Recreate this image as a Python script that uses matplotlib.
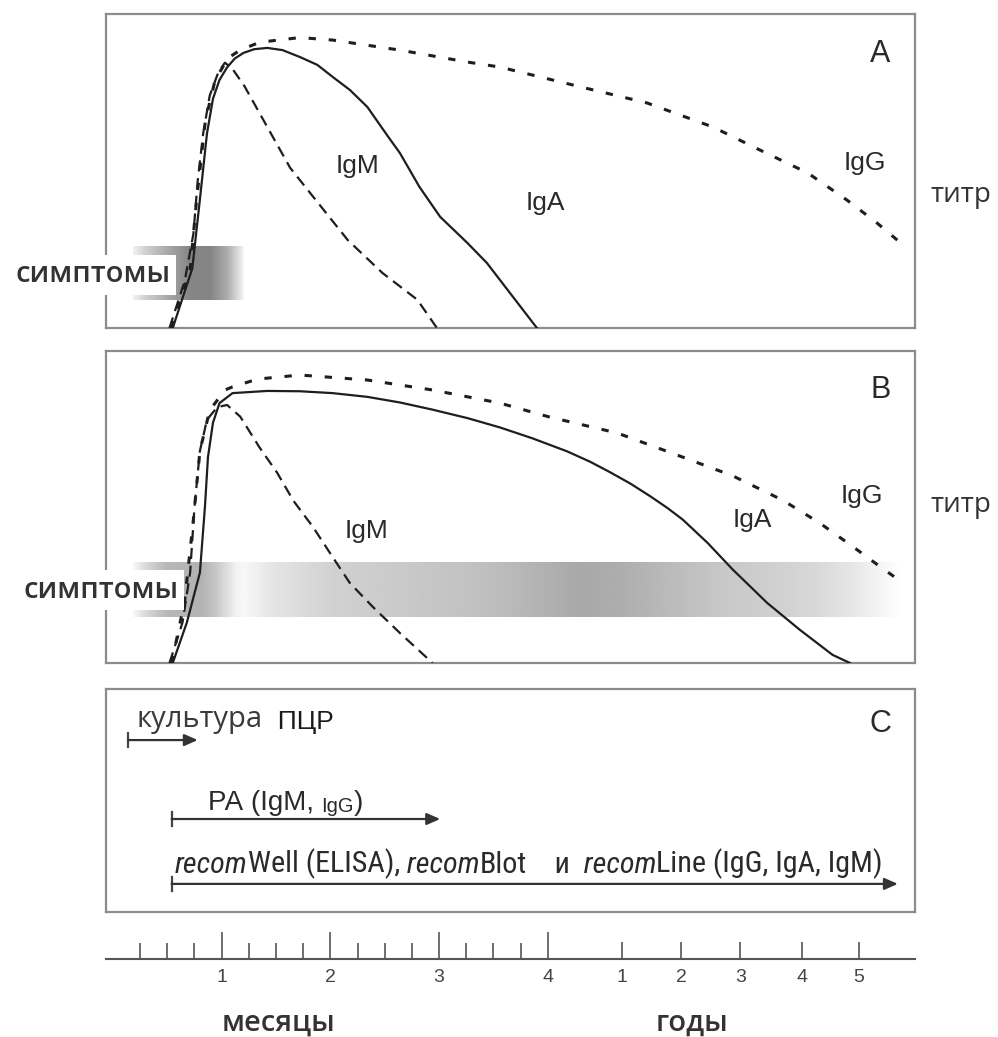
import numpy as np
import matplotlib
matplotlib.use("Agg")
import matplotlib.pyplot as plt
from matplotlib import font_manager

# ---- time scale: months 0..4 linear, then years squeezed onto the same axis
MONTH_TICKS = [1, 2, 3, 4]
MONTH_MINOR = [0.25, 0.5, 0.75, 1.25, 1.5, 1.75, 2.25, 2.5, 2.75, 3.25, 3.5, 3.75]
YEAR_TICKS = [1, 2, 3, 4, 5]
YEAR_POS = [4.68, 5.23, 5.77, 6.34, 6.86]

# ---- panel A: titre curves (time in axis units, titre 0..1)
a_igm_t = [0.52, 0.66, 0.74, 0.78, 0.83, 0.89, 0.97, 1.03, 1.10, 1.21, 1.42, 1.63, 1.86, 2.16, 2.48, 2.80, 2.98]
a_igm_y = [0.00, 0.15, 0.30, 0.47, 0.62, 0.74, 0.815, 0.845, 0.825, 0.77, 0.64, 0.51, 0.41, 0.28, 0.175, 0.09, 0.00]
a_iga_t = [0.55, 0.73, 0.80, 0.865, 0.92, 0.98, 1.05, 1.12, 1.20, 1.30, 1.42, 1.56, 1.72, 1.88, 2.02, 2.18, 2.34,
           2.53, 2.64, 2.82, 3.01, 3.26, 3.44, 3.56, 3.90]
a_iga_y = [0.00, 0.19, 0.41, 0.62, 0.73, 0.79, 0.83, 0.858, 0.876, 0.888, 0.892, 0.885, 0.863, 0.838, 0.80, 0.758, 0.704,
           0.61, 0.557, 0.449, 0.354, 0.271, 0.207, 0.153, 0.00]
a_igg_t = [0.54, 0.71, 0.77, 0.85, 0.94, 1.06, 1.17, 1.35, 1.72, 2.02, 2.64, 3.26, 3.56, 4.30, 4.91, 5.52, 5.95, 6.39, 6.75, 7.03, 7.29]
a_igg_y = [0.00, 0.185, 0.41, 0.66, 0.79, 0.86, 0.885, 0.91, 0.925, 0.917, 0.885, 0.847, 0.831, 0.768, 0.717, 0.64, 0.567, 0.494, 0.408, 0.334, 0.258]

# ---- panel B
b_igm_t = [0.52, 0.64, 0.71, 0.75, 0.80, 0.865, 0.96, 1.05, 1.17, 1.35, 1.51, 1.66, 1.84, 2.02, 2.18, 2.39, 2.64, 2.94]
b_igm_y = [0.00, 0.13, 0.29, 0.50, 0.68, 0.78, 0.82, 0.827, 0.79, 0.69, 0.61, 0.52, 0.436, 0.34, 0.256, 0.18, 0.096, 0.00]
b_iga_t = [0.55, 0.68, 0.80, 0.846, 0.874, 0.92, 0.98, 1.10, 1.42, 1.72, 2.02, 2.34, 2.64, 2.94, 3.26, 3.56, 3.86,
           4.18, 4.39, 4.57, 4.76, 4.94, 5.10, 5.24, 5.47, 5.70, 6.02, 6.32, 6.62, 6.78]
b_iga_y = [0.00, 0.13, 0.29, 0.50, 0.66, 0.77, 0.833, 0.865, 0.872, 0.871, 0.865, 0.853, 0.835, 0.812, 0.785, 0.755, 0.72,
           0.678, 0.645, 0.612, 0.575, 0.535, 0.497, 0.46, 0.385, 0.30, 0.192, 0.106, 0.026, 0.00]
b_igg_t = [0.54, 0.66, 0.74, 0.80, 0.89, 1.03, 1.10, 1.33, 1.72, 2.34, 2.94, 3.56, 4.02, 4.64, 5.24, 5.70, 6.16, 6.50, 6.81, 7.06, 7.27]
b_igg_y = [0.00, 0.20, 0.46, 0.68, 0.81, 0.875, 0.885, 0.91, 0.923, 0.907, 0.875, 0.833, 0.788, 0.737, 0.66, 0.60, 0.522, 0.449, 0.372, 0.308, 0.256]

# ---- symptom bands (gray level along time)
a_sym_t = [0.18, 0.29, 0.50, 0.71, 0.89, 1.05, 1.17, 1.21]
a_sym_g = [0.95, 0.82, 0.66, 0.52, 0.52, 0.68, 0.90, 1.00]
b_sym_t = [0.18, 0.29, 0.48, 0.80, 0.94, 1.12, 1.21, 1.44, 2.02, 2.64, 3.26, 3.74, 4.30, 4.66, 5.10, 5.56, 6.02, 6.48, 6.78, 7.06, 7.24]
b_sym_g = [0.97, 0.85, 0.72, 0.70, 0.78, 0.95, 0.97, 0.90, 0.82, 0.79, 0.76, 0.72, 0.66, 0.68, 0.73, 0.78, 0.81, 0.85, 0.90, 0.96, 1.00]

# ---- panel C: diagnostic windows
cult_span = (0.14, 0.78)
ra_span = (0.54, 3.01)
recom_span = (0.54, 7.22)

SANS = 'Liberation Sans'
HUM = 'Open Sans'


def pick_narrow():
    fl = font_manager.fontManager.ttflist
    for name in ('Liberation Sans Narrow', 'Roboto Condensed', 'Open Sans Condensed', 'Noto Sans Condensed'):
        if any(f.name == name for f in fl):
            return dict(family=name)
    for name in ('Liberation Sans', 'Noto Sans', 'DejaVu Sans', 'Open Sans', 'Roboto'):
        if any(f.name == name and str(f.stretch) in ('condensed', 'semi-condensed') for f in fl):
            return dict(family=name, stretch='condensed')
    return dict(family=SANS)


NARROW = pick_narrow()

W, H = 998, 1037
XLIM = (-0.064, 7.378)

fig = plt.figure(figsize=(W / 100, H / 100), dpi=100)


def px_axes(top, bottom, left=106, right=915):
    return fig.add_axes([left / W, 1 - bottom / H, (right - left) / W, (bottom - top) / H])


axA = px_axes(14, 328)
axB = px_axes(351, 663)
axC = px_axes(689, 912)
axT = px_axes(929, 959)


def band(ax, ts, gs, y0, y1):
    xs = np.linspace(ts[0], ts[-1], 500)
    row = np.interp(xs, ts, gs)
    ax.imshow(np.tile(row, (2, 1)), cmap='gray', vmin=0, vmax=1, aspect='auto',
              extent=(ts[0], ts[-1], y0, y1), interpolation='bilinear', zorder=0)


LC = '#1e1e1e'
for ax, igm, iga, igg in ((axA, (a_igm_t, a_igm_y), (a_iga_t, a_iga_y), (a_igg_t, a_igg_y)),
                          (axB, (b_igm_t, b_igm_y), (b_iga_t, b_iga_y), (b_igg_t, b_igg_y))):
    ax.plot(*igg, color=LC, lw=2.2, ls=(0, (2.4, 4.2)), zorder=3)
    ax.plot(*igm, color=LC, lw=1.6, ls=(0, (5, 3)), zorder=3)
    ax.plot(*iga, color=LC, lw=1.6, zorder=4, solid_joinstyle='round')

band(axA, a_sym_t, a_sym_g, 0.089, 0.258)
band(axB, b_sym_t, b_sym_g, 0.147, 0.321)

for ax in (axA, axB, axC):
    ax.set_xlim(XLIM)
    ax.set_ylim(0, 1)
    ax.set_xticks([])
    ax.set_yticks([])
    for sp in ax.spines.values():
        sp.set_color('#8c8c8c')
        sp.set_linewidth(1.6)

# curve labels
ig_font = dict(family=SANS, fontsize=19, color='#2a2a2a', va='baseline', ha='center')
axA.text(2.245, 0.494, 'IgM', **ig_font)
axA.text(3.98, 0.376, 'IgA', **ig_font)
axA.text(6.92, 0.503, 'IgG', **ig_font)
axB.text(2.33, 0.401, 'IgM', **ig_font)
axB.text(5.88, 0.436, 'IgA', **ig_font)
axB.text(6.89, 0.513, 'IgG', **ig_font)

for ax, lab, yb in ((axA, 'A', 0.847), (axB, 'B', 0.849), (axC, 'C', 0.807)):
    ax.text(0.957, yb, lab, transform=ax.transAxes, family=SANS, fontsize=22,
            color='#2a2a2a', ha='center', va='baseline')

# titre / symptoms labels
for ypx in (195, 505):
    fig.text(961 / W, 1 - ypx / H, 'титр', family=HUM, fontsize=20, color='#333333',
             ha='center', va='center')
for xpx, ypx in ((93, 275), (101, 590)):
    fig.text(xpx / W, 1 - ypx / H, 'симптомы', family=HUM, fontsize=21, weight='semibold',
             color='#333333', ha='center', va='center',
             bbox=dict(facecolor='white', edgecolor='none', pad=4))


# ---- panel C
def arrow(ax, span, y):
    ax.annotate('', xy=(span[1], y), xytext=(span[0], y),
                arrowprops=dict(arrowstyle='-|>,head_length=0.5,head_width=0.22', color='#333333',
                                lw=1.6, mutation_scale=16, shrinkA=0, shrinkB=0))
    ax.plot([span[0], span[0]], [y - 0.03, y + 0.03], color='#444444', lw=1.6)


arrow(axC, cult_span, 0.771)
arrow(axC, ra_span, 0.417)
arrow(axC, recom_span, 0.126)


def chain(ax, x, y, pieces, scale=1.0):
    out = []
    prev = None
    for txt, props in pieces:
        p = dict(props)
        p['fontsize'] = p['fontsize'] * scale
        if prev is None:
            prev = ax.text(x, y, txt, ha='left', va='baseline', **p)
        else:
            prev = ax.annotate(txt, xy=(1, 0), xycoords=prev, ha='left', va='bottom', **p)
        out.append(prev)
    return out


chain(axC, 0.22, 0.830, [('культура', dict(family=HUM, fontsize=21, color='#3a3a3a')),
                         ('  ПЦР', dict(family=SANS, fontsize=19, color='#1a1a1a'))])
chain(axC, 0.87, 0.457, [('РА (IgM, ', dict(family=SANS, fontsize=20, color='#2a2a2a')),
                         ('IgG', dict(family=SANS, fontsize=14.5, color='#2a2a2a')),
                         (')', dict(family=SANS, fontsize=20, color='#2a2a2a'))])
reg = dict(NARROW, fontsize=18, color='#2a2a2a')
ita = dict(NARROW, fontsize=18, color='#2a2a2a', style='italic')
recom_pieces = [('recom', ita), ('Well (ELISA),', reg), (' recom', ita),
                ('Blot', reg), ('    и', reg), ('  recom', ita),
                ('Line (IgG, IgA, IgM)', reg)]
arts = chain(axC, 0.57, 0.175, recom_pieces)
# fit the method line to its width in the picture (left 175 px, right 883 px)
renderer = fig.canvas.get_renderer()
x_left = arts[0].get_window_extent(renderer).x0
x_right = arts[-1].get_window_extent(renderer).x1
k = (883 - 175) / (x_right - x_left)
for a in arts:
    a.remove()
chain(axC, 0.57, 0.175, recom_pieces, scale=k)

# ---- time axis
axT.set_xlim(XLIM)
axT.set_ylim(0, 1)
axT.patch.set_alpha(0)
for side in ('left', 'right', 'top'):
    axT.spines[side].set_visible(False)
axT.spines['bottom'].set_color('#555555')
axT.spines['bottom'].set_linewidth(1.5)
axT.set_yticks([])
axT.set_xticks(MONTH_TICKS + YEAR_POS)
axT.set_xticklabels([str(m) for m in MONTH_TICKS] + [str(y) for y in YEAR_TICKS])
axT.set_xticks(MONTH_MINOR, minor=True)
axT.tick_params(axis='x', which='both', direction='in', color='#555555', width=1.2,
                labelsize=14, labelcolor='#444444', pad=7)
axT.tick_params(axis='x', which='minor', length=11.5)
for i, tk in enumerate(axT.xaxis.get_major_ticks()):
    tk.tick1line.set_markersize(19.5 if i < len(MONTH_TICKS) else 12)
    tk.label1.set_family(SANS)

fig.text(278 / W, 1 - 1023 / H, 'месяцы', family=HUM, fontsize=21, weight='semibold',
         color='#333333', ha='center', va='center')
fig.text(692 / W, 1 - 1023 / H, 'годы', family=HUM, fontsize=21, weight='semibold',
         color='#333333', ha='center', va='center')

fig.savefig('out.png', dpi=100)
